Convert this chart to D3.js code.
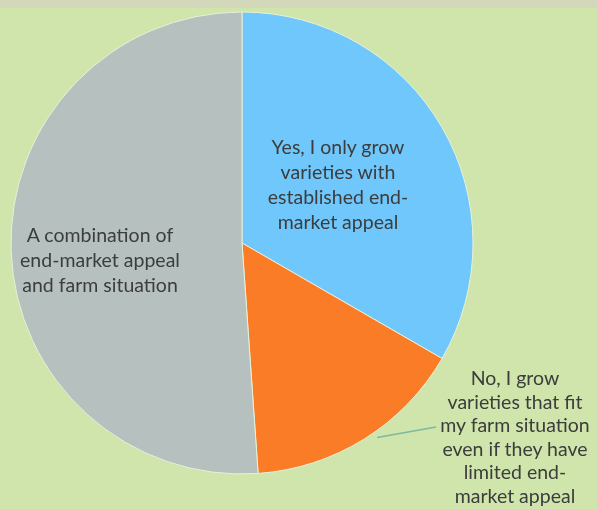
<!DOCTYPE html>
<html>
<head>
<meta charset="utf-8">
<script src="https://cdn.jsdelivr.net/npm/d3@7/dist/d3.min.js"></script>
<style>
  html, body { margin: 0; padding: 0; background: #cfe5ab; }
  svg { display: block; }
</style>
</head>
<body>
<svg id="chart" width="597" height="509"></svg>
<script>
// Survey answers: do you choose varieties for end-market appeal?
const categories = [
  "Yes, I only grow varieties with established end-market appeal",
  "No, I grow varieties that fit my farm situation even if they have limited end-market appeal",
  "A combination of end-market appeal and farm situation"
];
const responses = [15, 7, 23];
const sliceColors = ["#70c7fb", "#fb7b26", "#b5c0bf"];
const labelLines = [
  ["Yes, I only grow", "varieties with", "established end-", "market appeal"],
  ["No, I grow", "varieties that fit", "my farm situation", "even if they have", "limited end-", "market appeal"],
  ["A combination of", "end-market appeal", "and farm situation"]
];

const W = 597, H = 509;
const cx = 242, cy = 243, R = 231;

const svg = d3.select("#chart");

const defs = svg.append("defs");
defs.append("filter").attr("id", "soft")
  .append("feGaussianBlur").attr("stdDeviation", 0.6);

// background and top band
svg.append("rect").attr("width", W).attr("height", H).attr("fill", "#cfe5ab");
svg.append("rect").attr("width", W).attr("height", 8).attr("fill", "#d2d8b9");

const data = categories.map((c, i) => ({ cat: c, value: responses[i], i }));

const pie = d3.pie().sort(null).value(d => d.value);
const arcs = pie(data);
const arc = d3.arc().innerRadius(0).outerRadius(R);

const g = svg.append("g")
  .attr("transform", `translate(${cx},${cy})`)
  .attr("filter", "url(#soft)");

g.selectAll("path.slice")
  .data(arcs)
  .enter().append("path")
  .attr("class", "slice")
  .attr("d", arc)
  .attr("fill", d => sliceColors[d.data.i])
  .attr("stroke", "#e8f0d8")
  .attr("stroke-width", 1);

// leader line from the small slice out to its label
const orange = arcs[1];
const midA = orange.startAngle + (orange.endAngle - orange.startAngle) * 0.45;
const edge = [Math.sin(midA) * (R + 6), -Math.cos(midA) * (R + 6)];
g.append("line")
  .attr("x1", edge[0]).attr("y1", edge[1])
  .attr("x2", 436 - cx).attr("y2", 427 - cy)
  .attr("stroke", "#7bb9a0")
  .attr("stroke-width", 1.5);

// labels: [centre x, first baseline, line height]
const labelPos = [
  [338, 154, 25],
  [515, 385, 23.5],
  [100, 242, 25]
];

const tg = svg.append("g").attr("filter", "url(#soft)");
labelLines.forEach((lines, i) => {
  const [x, y0, lh] = labelPos[i];
  const t = tg.append("text")
    .attr("text-anchor", "middle")
    .attr("font-family", "Lato, 'Open Sans', sans-serif")
    .attr("font-size", 19.5)
    .attr("fill", "#3c3c3c");
  lines.forEach((ln, k) => {
    t.append("tspan").attr("x", x).attr("y", y0 + k * lh).text(ln);
  });
});
</script>
</body>
</html>
